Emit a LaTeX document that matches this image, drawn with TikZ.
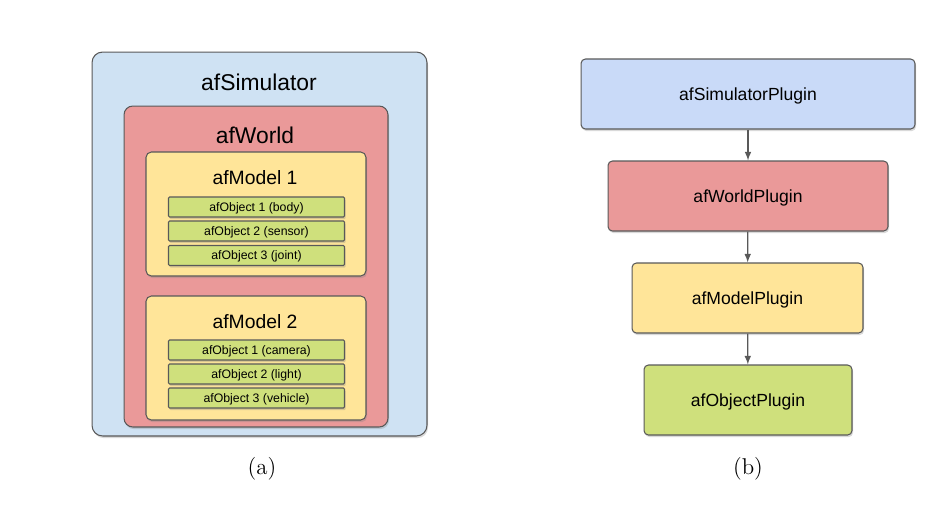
\documentclass[tikz,border=0pt]{standalone}
\usepackage{fontspec}
\newfontfamily\arial{Liberation Sans}
\usetikzlibrary{shadows}
\definecolor{simblue}{HTML}{CFE2F3}
\definecolor{plugblue}{HTML}{C9DAF8}
\definecolor{worldred}{HTML}{EA9999}
\definecolor{modelyellow}{HTML}{FFE599}
\definecolor{objgreen}{HTML}{CFE07C}
\definecolor{edgegray}{HTML}{595959}
\tikzset{
  box/.style={draw=edgegray, line width=0.6pt, inner sep=0pt,
    drop shadow={shadow xshift=0.6pt, shadow yshift=-1.2pt, opacity=0.3}},
  title/.style={font=\arial\fontsize{13}{15}\selectfont},
  modeltitle/.style={font=\arial\fontsize{11}{13}\selectfont},
  objbox/.style={box, fill=objgreen, rounded corners=0.6pt, minimum width=3.52cm,
    minimum height=0.4cm, text depth=0pt, font=\arial\fontsize{7}{8}\selectfont},
  plugbox/.style={box, rounded corners=2.5pt, minimum height=1.4cm, text depth=0pt,
    font=\arial\fontsize{10}{12}\selectfont},
  plugarrow/.style={draw=edgegray, line width=0.7pt, -latex},
  caption/.style={font=\fontsize{13}{15}\selectfont}
}
\begin{document}
\begin{tikzpicture}[x=0.02cm, y=-0.02cm]
\useasboundingbox (0,0) rectangle (952,505);
% (a) nested containers
\node (sim) [box, fill=simblue, rounded corners=6pt, minimum width=6.7cm, minimum height=7.68cm] at (259.5,244) {};
\node (simtitle) [title] at (259,82) {afSimulator};
\node (world) [box, fill=worldred, rounded corners=5pt, minimum width=5.28cm, minimum height=6.42cm] at (256,266.5) {};
\node (worldtitle) [title] at (255,135) {afWorld};
\node (modela) [box, fill=modelyellow, rounded corners=3pt, minimum width=4.4cm, minimum height=2.48cm] at (256,214) {};
\node (modelatitle) [modeltitle] at (255,178) {afModel 1};
\node (modelb) [box, fill=modelyellow, rounded corners=3pt, minimum width=4.4cm, minimum height=2.48cm] at (256,358) {};
\node (modelbtitle) [modeltitle] at (255,322) {afModel 2};
\foreach \y/\t [count=\i] in {207/{afObject 1 (body)}, 231/{afObject 2 (sensor)}, 255.5/{afObject 3 (joint)}}
  \node (obja\i) [objbox] at (256.5,\y) {\t};
\foreach \y/\t [count=\i] in {350/{afObject 1 (camera)}, 374/{afObject 2 (light)}, 398/{afObject 3 (vehicle)}}
  \node (objb\i) [objbox] at (256.5,\y) {\t};
% (b) plugin chain
\node (simplug) [plugbox, fill=plugblue, minimum width=6.68cm] at (748,94) {afSimulatorPlugin};
\node (worldplug) [plugbox, fill=worldred, minimum width=5.6cm] at (748,196) {afWorldPlugin};
\node (modelplug) [plugbox, fill=modelyellow, minimum width=4.62cm] at (747.5,298) {afModelPlugin};
\node (objplug) [plugbox, fill=objgreen, minimum width=4.16cm] at (748,400) {afObjectPlugin};
\draw [plugarrow] (simplug) -- (worldplug);
\draw [plugarrow] (worldplug) -- (modelplug);
\draw [plugarrow] (modelplug) -- (objplug);
% captions
\node (capa) [caption] at (262,469) {(a)};
\node (capb) [caption] at (748,469) {(b)};
\end{tikzpicture}
\end{document}
